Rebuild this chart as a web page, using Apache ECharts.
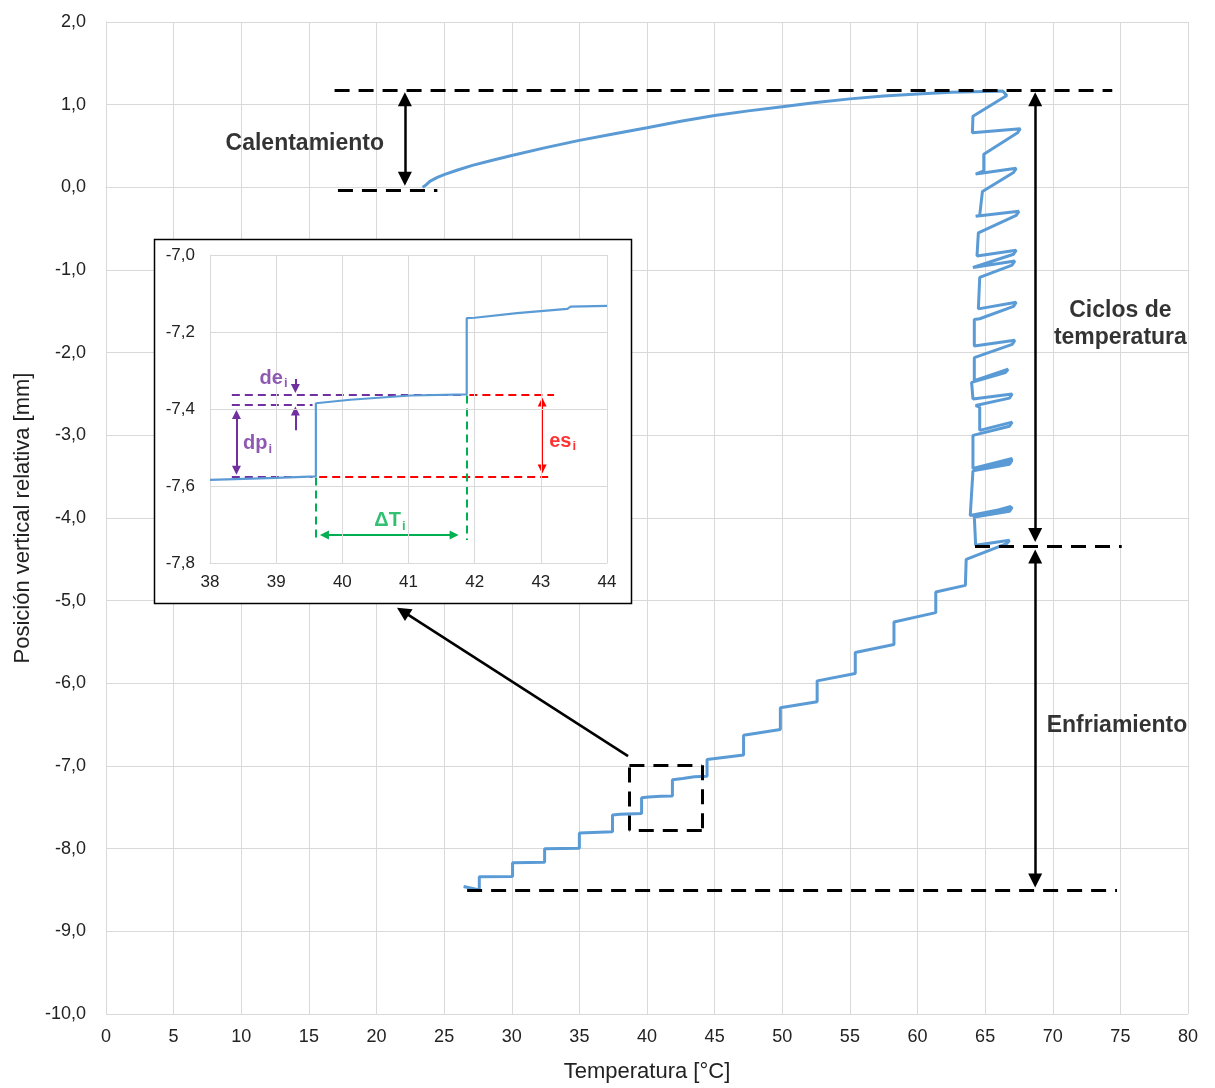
<!DOCTYPE html>
<html><head><meta charset="utf-8">
<script src="https://cdn.jsdelivr.net/npm/echarts@6/dist/echarts.min.js"></script>
<style>html,body{margin:0;padding:0;background:#fff}#c{width:1215px;height:1088px}</style>
</head><body><div id="c"></div>
<script>
// ---------------- DATA ----------------
// Heating: temperature [°C] and relative vertical position [mm]
const heatingT   = [23.41, 23.7, 23.97, 24.5, 25.05, 26.0, 27.09, 28.5, 30.0, 32.5, 35.0, 37.5, 40.0, 42.5, 45.0, 47.5, 50.0, 52.5, 55.0, 57.5, 60.0, 62.5, 65.0, 66.3, 66.6];
const heatingPos = [0.0, 0.035, 0.076, 0.12, 0.157, 0.21, 0.266, 0.325, 0.386, 0.48, 0.568, 0.645, 0.72, 0.80, 0.87, 0.925, 0.975, 1.025, 1.07, 1.105, 1.13, 1.15, 1.16, 1.165, 1.11];

// Temperature cycles (64-67 °C)
const cyclesT = [64.1, 64.06,
  67.6, 67.4, 64.9, 64.9, 64.3,
  67.3, 67.1, 64.8, 64.6, 64.3,
  67.5, 67.3, 64.5, 64.4,
  67.3, 67.1, 64.1,
  67.2, 67.0, 64.6, 64.5,
  67.3, 67.1, 64.6, 64.2, 64.2,
  67.2, 67.0, 64.2, 64.2,
  66.7, 66.5, 64.0, 64.1,
  67.0, 66.8, 64.3, 64.6, 64.6,
  67.0, 66.8, 64.1, 64.1,
  67.0, 66.8, 64.1, 67.0, 66.8, 64.1, 63.9,
  67.0, 66.8, 64.1, 66.9, 66.7, 64.2, 64.3,
  66.8, 66.6, 63.6];
const cyclesPos = [0.86, 0.66,
  0.71, 0.66, 0.40, 0.20, 0.16,
  0.23, 0.18, -0.05, -0.34, -0.35,
  -0.29, -0.34, -0.55, -0.83,
  -0.76, -0.81, -0.97,
  -0.89, -0.94, -1.09, -1.47,
  -1.39, -1.44, -1.59, -1.60, -1.92,
  -1.85, -1.90, -2.06, -2.34,
  -2.20, -2.24, -2.36, -2.56,
  -2.50, -2.55, -2.64, -2.66, -2.94,
  -2.84, -2.89, -3.00, -3.40,
  -3.28, -3.32, -3.42, -3.30, -3.35, -3.43, -3.97,
  -3.87, -3.92, -3.99, -3.86, -3.91, -3.98, -4.33,
  -4.27, -4.31, -4.50];

// Cooling (staircase)
const coolingT = [63.54, 61.35, 61.35, 58.26, 58.26, 55.4, 55.4, 52.58, 52.58, 49.86, 49.86, 47.14, 47.14,
  44.44, 44.44, 43.5, 43.45, 42.64, 41.88, 41.88, 41.03, 40.12, 39.6, 39.6, 38.0, 37.45, 37.45,
  35.0, 35.0, 32.43, 32.43, 30.06, 30.06, 27.6, 27.6, 26.44];
const coolingPos = [-4.815, -4.895, -5.145, -5.258, -5.531, -5.628, -5.88, -5.97, -6.224, -6.296, -6.558, -6.627, -6.868,
  -6.92, -7.125, -7.13, -7.14, -7.151, -7.165, -7.362, -7.365, -7.376, -7.385, -7.575, -7.584, -7.594, -7.794,
  -7.81, -7.995, -8.0, -8.164, -8.17, -8.338, -8.34, -8.50, -8.458];

// Inset (zoom 38-44 °C)
const insetT   = [38.0, 39.0, 39.6, 39.6, 40.12, 41.03, 41.88, 41.88, 42.0, 42.64, 43.4, 43.45, 44.0];
const insetPos = [-7.584, -7.579, -7.575, -7.385, -7.376, -7.365, -7.362, -7.164, -7.163, -7.151, -7.14, -7.134, -7.132];

// Annotation texts (label, T, position)
const mainLabels = [
  ['Calentamiento', 14.7, 0.53],
  ['Ciclos de\ntemperatura', 75.0, -1.65],
  ['Enfriamiento', 74.75, -6.51]
];
// Black dashed reference lines [x1,y1,x2,y2]
const dashedLines = [
  [16.9, 1.18, 74.4, 1.18],
  [17.15, -0.04, 24.5, -0.04],
  [64.25, -4.336, 75.1, -4.336],
  [26.7, -8.5, 74.75, -8.5],
  [38.7, -6.99, 44.05, -6.99],
  [44.05, -6.99, 44.05, -7.78],
  [44.05, -7.78, 38.7, -7.78],
  [38.7, -7.78, 38.7, -6.99]
];
// Black arrows [x1,y1,x2,y2, startHead, endHead]
const arrows = [
  [22.1, 1.065, 22.1, 0.105, 1, 1],
  [68.7, 1.065, 68.7, -4.205, 1, 1],
  [68.7, -4.465, 68.7, -8.385, 1, 1],
  [38.6, -6.88, 21.95, -5.13, 0, 1]
];
// Inset annotations
const insetDashed = [ // x1,y1,x2,y2,color
  [38.33, -7.362, 41.85, -7.362, '#7030A0'],
  [38.33, -7.389, 39.55, -7.389, '#7030A0'],
  [38.33, -7.575, 39.55, -7.575, '#7030A0'],
  [41.92, -7.362, 43.2, -7.362, '#FF0000'],
  [39.65, -7.575, 43.12, -7.575, '#FF0000'],
  [39.6, -7.578, 39.6, -7.735, '#00B050'],
  [41.88, -7.365, 41.88, -7.74, '#00B050']
];
const insetArrows = [ // x1,y1,x2,y2,startHead,endHead,color
  [39.73, -7.727, 41.69, -7.727, 1, 1, '#00B050'],
  [43.02, -7.382, 43.02, -7.556, 1, 1, '#FF0000'],
  [38.4, -7.414, 38.4, -7.559, 1, 1, '#7030A0'],
  [39.29, -7.322, 39.29, -7.347, 0, 1, '#7030A0'],
  [39.29, -7.455, 39.29, -7.405, 0, 1, '#7030A0']
];
const insetLabels = [ // main, sub, T, pos, color
  ['de', 'i', 38.96, -7.32, '#7030A0'],
  ['dp', 'i', 38.72, -7.49, '#7030A0'],
  ['es', 'i', 43.33, -7.484, '#FF0000'],
  ['\u0394T', 'i', 40.72, -7.69, '#00B050']
];

// ---------------- CHART ----------------
const pairs = (a, b) => a.map((v, i) => [v, b[i]]);
const mainCurve = pairs(heatingT, heatingPos).concat(pairs(cyclesT, cyclesPos), pairs(coolingT, coolingPos));
const insetCurve = pairs(insetT, insetPos);
const FONT = '"Liberation Sans", Arial, sans-serif';
const comma = v => v.toFixed(1).replace('.', ',');

function lineItem(x1, y1, x2, y2, style, s1, s2, size) {
  return [
    { coord: [x1, y1], symbol: s1 || 'none', symbolSize: size || 14, lineStyle: style },
    { coord: [x2, y2], symbol: s2 || 'none', symbolSize: size || 14, lineStyle: style }
  ];
}
const blackDash = { color: '#000', width: 3, type: [15, 9] };
const blackSolid = { color: '#000', width: 2.5, type: 'solid' };
const mainMarks = dashedLines.map(d => lineItem(d[0], d[1], d[2], d[3], blackDash))
  .concat(arrows.map(a => lineItem(a[0], a[1], a[2], a[3], blackSolid,
    a[4] ? 'triangle' : 'none', a[5] ? 'triangle' : 'none', 14)));
const insetMarks = insetDashed.map(d => lineItem(d[0], d[1], d[2], d[3], { color: d[4], width: 2, type: [8, 5] }))
  .concat(insetArrows.map(a => lineItem(a[0], a[1], a[2], a[3], { color: a[6], width: 2, type: 'solid' },
    a[4] ? 'triangle' : 'none', a[5] ? 'triangle' : 'none', 9)));

const gridColor = '#d9d9d9';
const option = {
  animation: false,
  backgroundColor: '#fff',
  textStyle: { fontFamily: FONT },
  grid: [
    { left: 106, right: 27, top: 22, bottom: 72 },
    { left: 210, top: 255, width: 397, height: 308 }
  ],
  xAxis: [
    { type: 'value', gridIndex: 0, min: 0, max: 80, interval: 5, z: 0,
      name: 'Temperatura [°C]', nameLocation: 'middle', nameGap: 47,
      nameTextStyle: { fontSize: 22, color: '#222', fontFamily: FONT },
      axisLine: { show: true, lineStyle: { color: gridColor } }, axisTick: { show: false },
      axisLabel: { fontSize: 18, color: '#222', margin: 14 },
      splitLine: { show: true, lineStyle: { color: gridColor } } },
    { type: 'value', gridIndex: 1, min: 38, max: 44, interval: 1, z: 6,
      axisLine: { show: true, onZero: false, lineStyle: { color: gridColor } }, axisTick: { show: false },
      axisLabel: { fontSize: 17, color: '#222', margin: 11 },
      splitLine: { show: true, lineStyle: { color: gridColor } } }
  ],
  yAxis: [
    { type: 'value', gridIndex: 0, min: -10, max: 2, interval: 1, z: 0,
      name: 'Posición vertical relativa [mm]', nameLocation: 'middle', nameGap: 72,
      nameTextStyle: { fontSize: 22, color: '#222', fontFamily: FONT },
      axisLine: { show: true, onZero: false, lineStyle: { color: gridColor } }, axisTick: { show: false },
      axisLabel: { fontSize: 18, color: '#222', margin: 20, formatter: comma },
      splitLine: { show: true, lineStyle: { color: gridColor } } },
    { type: 'value', gridIndex: 1, min: -7.8, max: -7.0, interval: 0.2, z: 6,
      axisLine: { show: true, onZero: false, lineStyle: { color: gridColor } }, axisTick: { show: false },
      axisLabel: { fontSize: 17, color: '#222', margin: 15, formatter: comma },
      splitLine: { show: true, lineStyle: { color: gridColor } } }
  ],
  graphic: [
    { type: 'rect', z: 5, shape: { x: 154.5, y: 239.5, width: 477, height: 364 },
      style: { fill: '#fff', stroke: '#000', lineWidth: 1.5 } }
  ],
  series: [
    { type: 'line', xAxisIndex: 0, yAxisIndex: 0, z: 3, data: mainCurve, showSymbol: false,
      lineStyle: { color: '#5B9BD5', width: 3 }, silent: true,
      markLine: { silent: true, animation: false, label: { show: false }, symbol: ['none', 'none'], data: mainMarks } },
    { type: 'line', xAxisIndex: 1, yAxisIndex: 1, z: 8, data: insetCurve, showSymbol: false,
      lineStyle: { color: '#5B9BD5', width: 2.2 }, silent: true,
      markLine: { silent: true, animation: false, label: { show: false }, symbol: ['none', 'none'], data: insetMarks } },
    { type: 'scatter', xAxisIndex: 0, yAxisIndex: 0, z: 9, symbolSize: 1,
      itemStyle: { color: 'rgba(0,0,0,0)' }, silent: true,
      data: mainLabels.map(l => ({ name: l[0], value: [l[1], l[2]] })),
      label: { show: true, position: 'inside', formatter: '{b}', fontSize: 23, fontWeight: 'bold',
        color: '#000', lineHeight: 27, align: 'center', fontFamily: FONT } },
    { type: 'scatter', xAxisIndex: 1, yAxisIndex: 1, z: 9, symbolSize: 1,
      itemStyle: { color: 'rgba(0,0,0,0)' }, silent: true,
      data: insetLabels.map(l => ({ name: l[0], value: [l[2], l[3]],
        label: { formatter: '{m|' + l[0] + '}{s|' + l[1] + '}', rich: {
          m: { fontSize: 20, fontWeight: 'bold', color: l[4], fontFamily: FONT, lineHeight: 24 },
          s: { fontSize: 13, fontWeight: 'bold', color: l[4], fontFamily: FONT, verticalAlign: 'bottom', lineHeight: 24, padding: [9, 0, 0, 1] } } } })),
      label: { show: true, position: 'inside' } }
  ]
};
const chart = echarts.init(document.getElementById('c'));
chart.setOption(option);
</script>
</body></html>
